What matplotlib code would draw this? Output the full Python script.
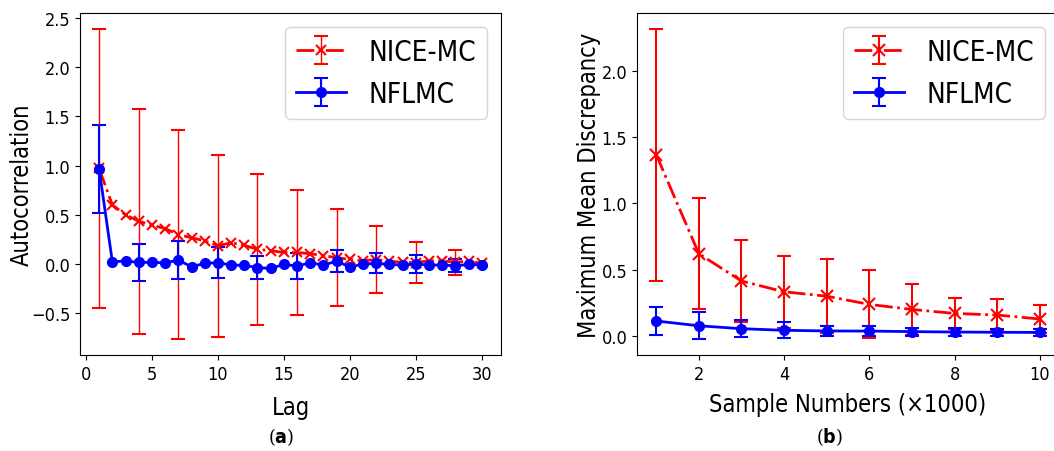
import matplotlib
matplotlib.use("Agg")
import matplotlib.pyplot as plt

# data
lags = list(range(1, 31))
nice_acf = [0.97, 0.60, 0.50, 0.435, 0.395, 0.36, 0.30, 0.267, 0.236, 0.186,
            0.216, 0.19, 0.15, 0.135, 0.118, 0.118, 0.105, 0.085, 0.065, 0.047,
            0.034, 0.045, 0.03, 0.017, 0.015, 0.034, 0.034, 0.018, 0.03, 0.007]
nice_acf_err = [1.42, 0, 0, 1.14, 0, 0, 1.065, 0, 0, 0.925,
                0, 0, 0.768, 0, 0, 0.63, 0, 0, 0.49, 0,
                0, 0.34, 0, 0, 0.21, 0, 0, 0.125, 0, 0]
nflmc_acf = [0.965, 0.024, 0.03, 0.018, 0.017, 0.013, 0.04, -0.027, 0.007, 0.014,
             -0.01, -0.013, -0.036, -0.044, -0.003, -0.02, 0.013, -0.01, 0.03, -0.03,
             0.0, 0.008, -0.003, -0.01, 0.0, -0.01, -0.01, -0.018, -0.003, -0.01]
nflmc_acf_err = [0.45, 0, 0, 0.19, 0, 0, 0.195, 0, 0, 0.16,
                 0, 0, 0.118, 0, 0, 0.13, 0, 0, 0.113, 0,
                 0, 0.1, 0, 0, 0.093, 0, 0, 0.066, 0, 0]

samples = list(range(1, 11))
nice_mmd = [1.366, 0.62, 0.414, 0.333, 0.30, 0.238, 0.20, 0.17, 0.158, 0.128]
nice_mmd_err = [0.95, 0.42, 0.31, 0.27, 0.28, 0.256, 0.193, 0.12, 0.118, 0.105]
nflmc_mmd = [0.113, 0.077, 0.055, 0.043, 0.038, 0.037, 0.033, 0.03, 0.028, 0.027]
nflmc_mmd_err = [0.107, 0.103, 0.063, 0.059, 0.035, 0.04, 0.03, 0.028, 0.027, 0.027]

plt.rcParams['font.family'] = ['DejaVu Sans']
plt.rcParams['font.stretch'] = 'condensed'  # reference text is narrow

fig = plt.figure(figsize=(10.54, 4.52), dpi=100)
ax1 = fig.add_axes([0.0759, 0.2124, 0.3994, 0.7566])
ax2 = fig.add_axes([0.6044, 0.2124, 0.4004, 0.7566])

# (a) autocorrelation
ax1.errorbar(lags, nice_acf, yerr=nice_acf_err, errorevery=3, color='red', ls='-.',
             lw=2, marker='x', ms=7, mew=1.5, elinewidth=1, capsize=5, capthick=1,
             label='NICE-MC')
ax1.errorbar(lags, nflmc_acf, yerr=nflmc_acf_err, errorevery=3, color='blue', ls='-',
             lw=2, marker='o', ms=7, elinewidth=1.5, capsize=5, capthick=1.5,
             label='NFLMC')
ax1.set_xlabel('Lag', fontsize=17, labelpad=9)
ax1.set_ylabel('Autocorrelation', fontsize=17, labelpad=-2)
ax1.set_xticks([0, 5, 10, 15, 20, 25, 30])
ax1.set_yticks([-0.5, 0.0, 0.5, 1.0, 1.5, 2.0, 2.5])
ax1.tick_params(labelsize=13)
ax1.legend(loc='upper right', fontsize=20, handlelength=1.8, labelspacing=0.5)

# (b) MMD
ax2.errorbar(samples, nice_mmd, yerr=nice_mmd_err, color='red', ls='-.',
             lw=2, marker='x', ms=8, mew=1.5, elinewidth=1.5, capsize=5, capthick=1.5,
             label='NICE-MC')
ax2.errorbar(samples, nflmc_mmd, yerr=nflmc_mmd_err, color='blue', ls='-',
             lw=2, marker='o', ms=7, elinewidth=1.5, capsize=5, capthick=1.5,
             label='NFLMC')
ax2.set_xlabel('Sample Numbers (\u00d71000)', fontsize=17, labelpad=7)
ax2.set_ylabel('Maximum Mean Discrepancy', fontsize=17, labelpad=0)
ax2.set_xticks([2, 4, 6, 8, 10])
ax2.set_yticks([0.0, 0.5, 1.0, 1.5, 2.0])
ax2.tick_params(labelsize=13)
ax2.legend(loc='upper right', fontsize=20, handlelength=1.8, labelspacing=0.5)

# captions under the panels
fig.text(281 / 1054, 1 - 437 / 452, r'($\mathbf{a}$)', ha='center', va='center',
         fontsize=14, family='DejaVu Serif')
fig.text(829 / 1054, 1 - 437 / 452, r'($\mathbf{b}$)', ha='center', va='center',
         fontsize=14, family='DejaVu Serif')

fig.savefig('out.png', dpi=100)
